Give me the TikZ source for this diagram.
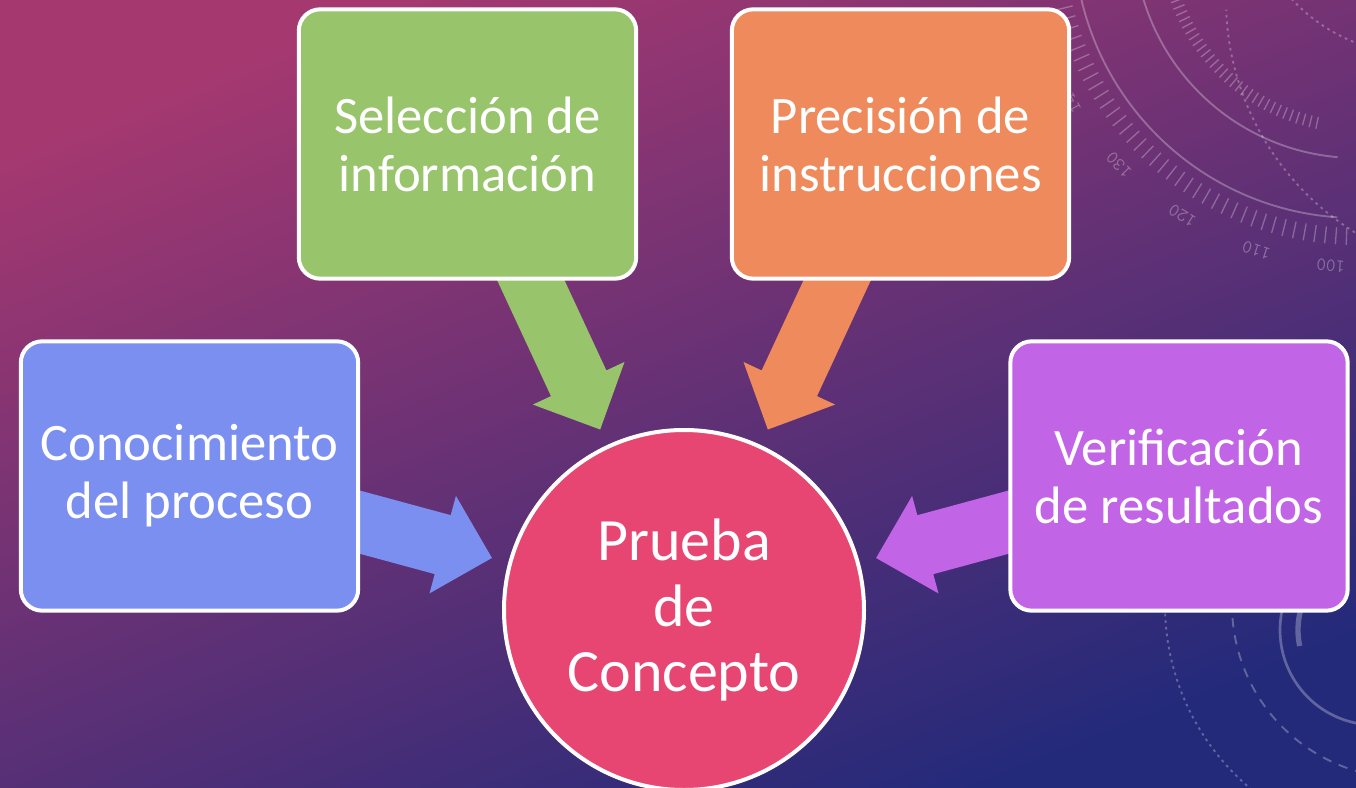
\documentclass[tikz,border=0pt]{standalone}
\usepackage{fontspec}
\setmainfont{Carlito}
\usetikzlibrary{calc,backgrounds}

\definecolor{bgtop}{RGB}{166,56,112}
\definecolor{bgmid}{RGB}{98,45,122}
\definecolor{bgbot}{RGB}{36,42,122}
\definecolor{boxgreen}{RGB}{152,196,107}
\definecolor{boxorange}{RGB}{238,138,91}
\definecolor{boxblue}{RGB}{122,143,240}
\definecolor{boxpurple}{RGB}{194,100,230}
\definecolor{circpink}{RGB}{232,70,114}

\tikzset{
  stepbox/.style={draw=white, line width=3pt, rounded corners=16pt, minimum width=253pt,
    minimum height=202pt, inner sep=0pt, align=center, text=white,
    font=\fontsize{39.5}{43.5}\selectfont},
  goalcircle/.style={circle, draw=white, line width=3pt, fill=circpink, minimum size=270pt,
    inner sep=0pt, align=center, text=white, font=\fontsize{45}{49}\selectfont},
  deco/.style={draw=white, draw opacity=0.28, line width=1.4pt},
  dialtext/.style={text=white, text opacity=0.3, font=\ttfamily\fontsize{14}{14}\selectfont, inner sep=0pt},
}

% block arrow from the centre of #1 towards #2, colour #3
\newcommand{\blockarrow}[3]{%
  \coordinate (tip) at ($(#2)!149.25pt!(#1)$);
  \coordinate (neck) at ($(tip)!38.25pt!(#1)$);
  \fill[#3] ($(#1)!22.9pt!90:(tip)$) -- ($(neck)!22.9pt!-90:(#1)$) -- ($(neck)!37.9pt!-90:(#1)$)
    -- (tip) -- ($(neck)!37.9pt!90:(#1)$) -- ($(neck)!22.9pt!90:(#1)$) -- ($(#1)!22.9pt!-90:(tip)$) -- cycle;
}

\begin{document}
\begin{tikzpicture}[x=0.75pt,y=0.75pt,yscale=-1,xscale=1]
\useasboundingbox (0,0) rectangle (1356,788);

% Boxes
\node[stepbox, fill=boxgreen] (sel) at (467.5,144) {Selección de\\información};
\node[stepbox, fill=boxorange] (pre) at (900.5,144) {Precisión de\\instrucciones};
\node[stepbox, fill=boxblue] (con) at (189.5,476) {Conocimiento\\del proceso};
\node[stepbox, fill=boxpurple] (ver) at (1179,476) {Verificación\\de resultados};
% Circle
\node[goalcircle] (pc) at (684,610) {Prueba\\de\\Concepto};

\begin{scope}[on background layer]
%Shape: background
\shade[top color=bgtop, middle color=bgmid, bottom color=bgbot, shading angle=22] (0,0) rectangle (1356,788);

\begin{scope}
\clip (0,0) rectangle (1356,788);
% dial, top right
\draw[deco] (1357,-65) ++(94:283) arc[start angle=94, end angle=178, radius=283];
\draw[deco] (1357,-65) ++(95:223) arc[start angle=95, end angle=178, radius=223];
\foreach \a in {92,94,...,168} \draw[deco, line width=1pt] (1357,-65) ++(\a:293) -- ++(\a:17);
\foreach \a in {102,104,...,160} \draw[deco, line width=1pt] (1357,-65) ++(\a:186) -- ++(\a:12);
\draw[deco, dash pattern=on 2pt off 3pt] (1500,0) ++(115:274) arc[start angle=115, end angle=178, radius=274];
\draw[deco, dash pattern=on 2pt off 3pt] (1420,-120) ++(60:175) arc[start angle=60, end angle=140, radius=175];
\foreach \a/\t in {150/140,136/130,122/120,108/110,95/100}
  \node[dialtext, rotate=-90-\a] (lbl\t) at ($(1360,-68)+(\a:335)$) {\t};
% dial, bottom right
\draw[deco, dash pattern=on 2pt off 3pt] (1405,605) ++(85:240) arc[start angle=85, end angle=182, radius=240];
\draw[deco, dash pattern=on 7pt off 6pt] (1405,605) ++(75:173) arc[start angle=75, end angle=182, radius=173];
\draw[deco, line width=2pt] (1375,630) ++(60:95) arc[start angle=60, end angle=215, radius=95];
\draw[deco, line width=4pt] (1375,630) ++(168:77) arc[start angle=168, end angle=205, radius=77];
\end{scope}

% Arrows
\blockarrow{sel}{pc}{boxgreen}
\blockarrow{pre}{pc}{boxorange}
\blockarrow{con}{pc}{boxblue}
\blockarrow{ver}{pc}{boxpurple}
\end{scope}

\end{tikzpicture}
\end{document}
